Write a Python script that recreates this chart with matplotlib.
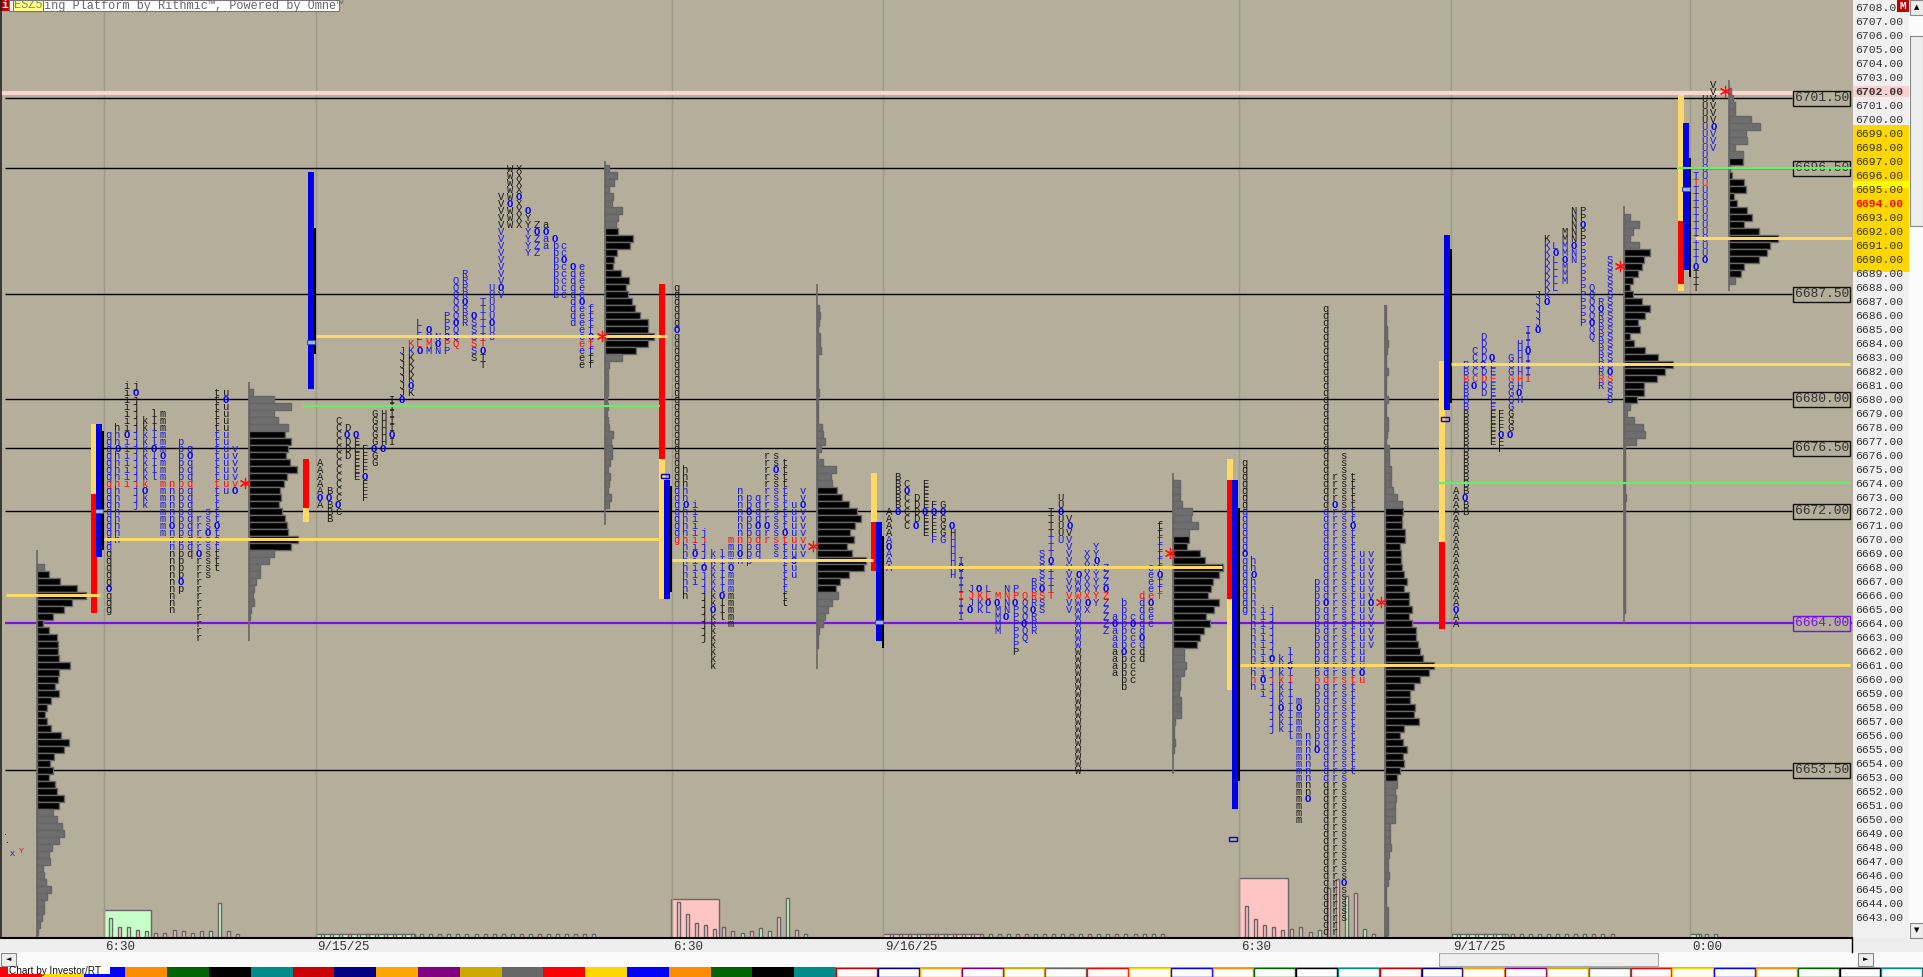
#!/usr/bin/env python3
import matplotlib
matplotlib.use("Agg")
import matplotlib.pyplot as plt
from matplotlib.patches import Rectangle

W, H = 1924, 977
BG = '#b4ae9a'
MONO = 'Liberation Mono'
TOP_PRICE = 6708.52
BOTTOM_PRICE = 6641.52

LOWER = list("ghijklmnpqrstuv")
UPPER = list("ABCDEFGHIJKLMNPQRSTUVWXYZabcdef")

# session 1 (6:30 9/12)
S1_HIGH = [6677.5, 6678, 6681, 6681, 6678.5, 6679, 6679, 6674, 6677, 6676.5, 6671.5, 6672, 6680.5, 6680.5, 6676.5]
S1_LOW = [6665, 6670, 6674, 6672.5, 6672.5, 6674.5, 6670.5, 6665, 6666.5, 6669, 6663, 6667.5, 6668, 6673.5, 6673.5]
S1_OPEN = [6666.5, 6676.5, 6677.5, 6680.5, 6673.5, 6676.5, 6676, 6671, 6667, 6676, 6669, 6670.5, 6671, 6680, 6673.5]
# session 2 (overnight 9/15)
S2_HIGH = [6675.5, 6673.5, 6678.5, 6678, 6677.5, 6676.5, 6679, 6679, 6680, 6683.5, 6684, 6685.5, 6685, 6684.5, 6686, 6688.5,
           6689, 6686, 6687, 6688, 6694.5, 6696.5, 6696.5, 6693.5, 6692.5, 6692.5, 6691.5, 6691, 6689.5, 6689.5, 6686.5]
S2_LOW = [6672.5, 6671.5, 6672, 6676, 6674.5, 6673, 6675.5, 6676.5, 6677, 6680, 6680.5, 6683.5, 6683.5, 6683.5, 6683.5, 6684,
          6685.5, 6683, 6682.5, 6684.5, 6687.5, 6692.5, 6692.5, 6690.5, 6690.5, 6691, 6687.5, 6687.5, 6685.5, 6682.5, 6682.5]
S2_OPEN = [6673, 6673, 6672.5, 6677.5, 6677.5, 6674.5, 6676.5, 6676.5, 6677.5, 6680, 6681, 6683.5, 6685, 6684, 6684.5, 6685.5,
           6687, 6686, 6683.5, 6685.5, 6688, 6694, 6694.5, 6693.5, 6692, 6692, 6691.5, 6690, 6689.5, 6687, 6684.5]
# session 3 (6:30 9/15)
S3_HIGH = [6688, 6675, 6672.5, 6670.5, 6669, 6669, 6670, 6673.5, 6673, 6673, 6676, 6676, 6675.5, 6672.5, 6673.5]
S3_LOW = [6670, 6666, 6667, 6663, 6661, 6664.5, 6664, 6668.5, 6668.5, 6669, 6670, 6669, 6665.5, 6667.5, 6669]
S3_OPEN = [6685, 6672.5, 6669, 6668, 6665, 6666, 6668, 6669, 6672, 6671, 6671, 6675, 6670.5, 6668.5, 6672.5]
# session 4 (overnight 9/16)
S4_HIGH = [6672, 6674.5, 6674, 6673, 6674, 6672.5, 6672.5, 6671, 6668.5, 6666.5, 6666.5, 6666.5, 6666, 6666.5, 6666.5, 6666,
           6667, 6669, 6672, 6673, 6671.5, 6667.5, 6669, 6669.5, 6668, 6664.5, 6665.5, 6664.5, 6666, 6668, 6671]
S4_LOW = [6668, 6672, 6671, 6671, 6670.5, 6670, 6670, 6667.5, 6664.5, 6665, 6665, 6665, 6663.5, 6664.5, 6662, 6663,
          6663.5, 6665, 6666, 6670, 6665, 6653.5, 6665, 6665.5, 6663.5, 6660.5, 6659.5, 6660, 6661.5, 6664, 6666]
S4_OPEN = [6669.5, 6672, 6673.5, 6671, 6672, 6672, 6672, 6671, 6668, 6665, 6666.5, 6665.5, 6665.5, 6664.5, 6665.5, 6664,
           6665, 6666.5, 6668.5, 6672, 6671, 6667.5, 6665.5, 6668.5, 6666.5, 6664, 6662, 6664, 6663, 6665.5, 6667.5]
# session 5 (6:30 9/16)
S5_HIGH = [6675.5, 6668.5, 6665, 6665, 6661.5, 6662, 6658.5, 6656, 6667, 6686.5, 6674.5, 6676, 6674.5, 6669, 6669]
S5_LOW = [6665, 6659.5, 6659, 6656.5, 6656.5, 6656, 6650, 6651.5, 6655, 6642, 6642, 6643, 6653.5, 6660, 6662.5]
S5_OPEN = [6669, 6667.5, 6660, 6661.5, 6658, 6661, 6658, 6651.5, 6655, 6665.5, 6672.5, 6645.5, 6671, 6660.5, 6665.5]
# session 6 (overnight 9/17)
S6_LETTERS = UPPER[:18]
S6_HIGH = [6673.5, 6682.5, 6683.5, 6684.5, 6683, 6679, 6683, 6684, 6685, 6687.5, 6691.5, 6691, 6692, 6693.5, 6693.5, 6688, 6687, 6690]
S6_LOW = [6664, 6672, 6681, 6680.5, 6677, 6676.5, 6677.5, 6680, 6681.5, 6685, 6687, 6688, 6688.5, 6690, 6685.5, 6684.5, 6681, 6680]
S6_OPEN = [6665, 6673, 6681, 6682.5, 6683, 6677.5, 6677.5, 6680.5, 6683.5, 6685, 6687, 6690.5, 6690, 6691, 6692.5, 6685.5, 6686.5, 6682]
# session 7 (6:30 9/17, still running)
S7_LETTERS = ['T', 'U', 'V']
S7_HIGH = [6696, 6701.5, 6702.5]
S7_LOW = [6688, 6690, 6698]
S7_OPEN = [6689.5, 6690, 6699.5]

COL_X0 = [108.3, 320, 676.3, 888.7, 1244.3, 1456, 1695.3]
MID_PRICE = [6674, 6684, 6670, 6666, 6660, 6681.5, 6695.5]
VA_LOW = [6669.5, 6683.5, 6666.5, 6662.5, 6653, 6679.5, 6690]
VA_HIGH = [6677.5, 6692, 6673.5, 6670, 6672, 6691, 6699.5]

# profiles, read top row down in half point steps
P0_WIDTH = [7, 12, 23, 40, 49, 35, 27, 16, 6, 12, 20, 21, 21, 22, 33, 22, 21, 18, 22, 14, 10, 8, 10, 14, 24, 32, 27, 17, 13,
            16, 12, 18, 20, 27, 22, 16, 20, 25, 27, 22, 15, 12, 13, 6, 7, 8.5, 14, 10, 7, 7, 5, 3, 1]
P1_WIDTH = [4, 25, 42, 25, 29, 39, 36, 42, 39, 37, 41, 48, 38, 35, 31, 32, 30, 33, 36, 38, 39, 49, 42, 25, 20, 11, 11, 7, 5, 4, 5, 2, 1]
P2_WIDTH = [4, 12, 9, 4, 8, 7, 17, 13, 11, 13, 28, 25, 12, 9, 8, 16, 24, 21, 23, 27, 30, 35, 43, 43, 49, 43, 31, 17, 4, 3, 3, 3,
            3, 2, 3, 2, 3, 4, 8, 6, 7, 7, 5, 3, 5, 4, 3, 6, 4]
P3_WIDTH = [2, 3, 2, 0.5, 3, 3, 4, 1, 0.5, 0.5, 0.5, 0.5, 2, 0.5, 0.5, 0.5, 1, 5, 6, 8, 4, 1, 6, 19, 14, 15, 20, 25, 32, 40, 44,
            38, 33, 37, 30, 35, 49, 47, 32, 23, 19, 21, 15, 11, 8, 6, 2, 0.5, 1]
P4_WIDTH = [7, 6.5, 7, 9, 19, 18, 25, 16, 16, 14, 27, 32, 50, 46, 40, 38, 35, 46, 41, 33, 37, 31, 27, 24, 11, 11, 13, 11, 7, 7,
            6, 8, 8, 8, 2, 1, 0.5, 2, 1]
P5_WIDTH = [0.5, 0.5, 0.5, 2, 2, 3, 2, 0.5, 0.5, 3, 0.5, 0.5, 0.5, 3, 0.5, 1, 3, 3, 2, 1, 4, 4, 4, 6, 6, 6, 8, 12, 17, 18, 17,
            17, 20, 20, 15, 16, 16, 17, 19, 22, 19, 24, 24, 27, 24, 27, 31, 31, 33, 35, 38, 49, 44, 35, 29, 25, 25, 30, 29, 34,
            19, 15, 18, 22, 18, 19, 15, 12, 12, 10, 11, 10, 10, 10, 5, 5, 5, 6, 4, 3, 3, 4, 3, 1, 1, 1, 3, 3, 3, 3, 2]
P6_WIDTH = [6, 15, 9, 6, 15, 26, 20, 18, 14, 9, 6, 9, 18, 26, 21, 14, 16, 6, 10, 21, 34, 49, 41, 33, 20, 20, 13, 6, 3, 10, 19, 21, 12,
            1, 1, 1, 0.5, 1, 1, 1, 2, 1, 0.5, 0.5, 1, 1, 1, 0.5, 0.5, 1, 1, 1, 0.5, 0.5, 1, 1, 1]
P7_WIDTH = [2, 4, 6, 6, 22, 31, 17, 18, 6, 14, 14, 1, 3, 15, 17, 5, 8, 18, 23, 15, 30, 49, 41, 38, 30, 15, 12, 6]

PROFILE_X = [37.5, 249.3, 605, 817.3, 1173.3, 1385.5, 1624.3, 1728.7]
PROFILE_TOP = [6668, 6680.5, 6696.5, 6686.5, 6674, 6686.5, 6693, 6702]
PROFILE_BLACK_HI = [6667.5, 6677.5, 6692, 6673.5, 6670, 6672, 6690.5, 6697]
PROFILE_BLACK_LO = [6651, 6669.5, 6683.5, 6666.5, 6662.5, 6653, 6680, 6689]
PROFILE_LINE_HI = [6669.2, 6681.2, 6697, 6688.2, 6674.7, 6686.7, 6693.8, 6702.8]
PROFILE_LINE_LO = [6641.6, 6662.7, 6671, 6660.7, 6653.2, 6641.6, 6664, 6687.7]

# point of control lines
POC_PRICE = [6666, 6670, 6684.5, 6668.5, 6668, 6661, 6682.5, 6691.5]
POC_X0 = [6, 104, 316, 672, 884, 1240, 1451, 1695]
POC_X1 = [100, 659, 667, 873, 1222, 1850, 1850, 1852]

STAR_X = [245.3, 601.7, 813, 1169.7, 1381.3, 1620, 1725]
STAR_PRICE = [6674, 6684.5, 6669.5, 6669, 6665.5, 6689.5, 6702]

# session range bars next to the letters: yellow/red column, blue column, black column
RANGE_X = [91, 303, 659, 871, 1227, 1439, 1678]
RANGE_YELLOW = [[(6673.2, 6678.2)], [(6671.2, 6672.2)], [(6665.7, 6675.7)], [(6671.2, 6674.7)],
                [(6674.2, 6675.7), (6659.2, 6665.7)], [(6669.8, 6682.7)], [(6692.7, 6701.7), (6687.7, 6688.2)]]
RANGE_RED = [(6664.7, 6673.2), (6672.2, 6675.7), (6675.7, 6688.2), (6667.7, 6671.2),
             (6665.7, 6674.2), (6663.6, 6669.8), (6688.2, 6692.7)]
BLUE_LOW = [6668.7, 6680.7, 6665.7, 6662.7, 6650.7, 6679.2, 6689.2]
BLUE_HIGH = [6678.2, 6696.2, 6674.2, 6671.2, 6674.2, 6691.7, 6699.7]
BLACK_LOW = [6669.2, 6683.2, 6666.2, 6662.2, 6652.7, 6679.7, 6688.7]
BLACK_HIGH = [6677.7, 6692.2, 6673.8, 6670.2, 6672.2, 6690.7, 6697.2]
MARK_PRICE = [6672, 6684.1, 6674.5, 6664.1, 6648.6, 6678.6, 6695]
MARK_FILLED = [True, True, False, True, False, False, True]

LEVELS = [6701.5, 6696.5, 6687.5, 6680, 6676.5, 6672, 6653.5]
PURPLE_LEVEL = 6664
PINK_LEVEL = 6702
GREEN_PRICE = [6679.5, 6696.5, 6674]
GREEN_X0 = [303, 1677, 1438]
GREEN_X1 = [660, 1852, 1850]

GRID_X = [103.6, 315.6, 671.6, 883.4, 1239.3, 1451.4, 1690.3]
GRID_LABELS = ['6:30', '9/15/25', '6:30', '9/16/25', '6:30', '9/17/25', '0:00']

# volume per letter, g = up, p = down
V1_HEIGHT = [20, 11, 11, 8, 7, 5, 5, 8, 7, 5, 7, 7, 35, 7, 4]
V1_COLOR = list("gpgpgppppppggpp")
V2_HEIGHT = [4] * 31
V2_COLOR = list("gggpgpggpggggpggggppggpgpgggppg")
V3_HEIGHT = [36, 24, 15, 13, 9, 11, 7, 5, 7, 10, 7, 21, 40, 8, 4]
V3_COLOR = list("pppppppgpggpgpg")
V4_HEIGHT = [4] * 31
V4_COLOR = list("pgpgppgpgppgpgppgppgpgpggpgpggp")
V5_HEIGHT = [32, 19, 13, 11, 8, 9, 11, 6, 8, 50, 59, 42, 45, 9, 4]
V5_COLOR = list("ppppppppgppgpgg")
V6_HEIGHT = [4] * 18
V6_COLOR = list("gggggggggggggggpgp")
V7_HEIGHT = [4, 4, 4]
V7_COLOR = list("ggg")

BOX_X0 = [103.6, 315.6, 671.4, 883.4, 1239, 1451.6, 1690]
BOX_X1 = [151.3, 415, 719, 981, 1287.7, 1508.4, 1701]
BOX_HEIGHT = [28, 4, 38.6, 4, 60, 4, 4]
BOX_COLOR = ['#c8ffc8', '#c8ffc8', '#ffc4c4', '#ffc4c4', '#ffc4c4', '#c8ffc8', '#c8ffc8']

SWATCHES = ['#ff0000', '#ffd700', '#0000ff', '#ff8c00', '#006400', '#000000', '#008b8b',
            '#cc0000', '#000080', '#ffa500', '#800080', '#ccaa00', '#666666']

SESSIONS = [
    (LOWER, S1_HIGH, S1_LOW, S1_OPEN),
    (UPPER, S2_HIGH, S2_LOW, S2_OPEN),
    (LOWER, S3_HIGH, S3_LOW, S3_OPEN),
    (UPPER, S4_HIGH, S4_LOW, S4_OPEN),
    (LOWER, S5_HIGH, S5_LOW, S5_OPEN),
    (S6_LETTERS, S6_HIGH, S6_LOW, S6_OPEN),
    (S7_LETTERS, S7_HIGH, S7_LOW, S7_OPEN),
]
PROFILES = [P0_WIDTH, P1_WIDTH, P2_WIDTH, P3_WIDTH, P4_WIDTH, P5_WIDTH, P6_WIDTH, P7_WIDTH]
VOLUMES = [(V1_HEIGHT, V1_COLOR), (V2_HEIGHT, V2_COLOR), (V3_HEIGHT, V3_COLOR), (V4_HEIGHT, V4_COLOR),
           (V5_HEIGHT, V5_COLOR), (V6_HEIGHT, V6_COLOR), (V7_HEIGHT, V7_COLOR)]

fig = plt.figure(figsize=(W / 100, H / 100), dpi=100, facecolor=BG)

# window furniture sits behind and above the chart, in pixels
back = fig.add_axes([0, 0, 1, 1], zorder=0)
back.set_xlim(0, W)
back.set_ylim(H, 0)
back.axis('off')
top = fig.add_axes([0, 0, 1, 1], zorder=5)
top.set_xlim(0, W)
top.set_ylim(H, 0)
top.axis('off')
top.patch.set_visible(False)


def box(a, x0, y0, x1, y1, fc, ec='none', lw=0):
    a.add_patch(Rectangle((x0, y0), x1 - x0, y1 - y0, fc=fc, ec=ec, lw=lw))


box(back, 1852.7, 0, 1909, 938, '#f0f0f0')
box(back, 1852.7, 125, 1909, 272, '#ffd700')
box(back, 1852.7, 181, 1909, 188, '#ffff00')
box(back, 1852.7, 86, 1909, 97, '#f8d0d0')
box(back, 0, 938, W, 952, '#eeeeee')
box(back, 0, 952, W, 967, '#fbfbfb')
box(back, 1909, 0, W, 938, '#fbfbfb')

# price axis
ax = fig.add_axes([0, (H - 938) / H, 1852 / W, 938 / H], zorder=2)
ax.patch.set_visible(False)
ax.set_xlim(0, 1852)
ax.set_ylim(BOTTOM_PRICE, TOP_PRICE)
for s in ax.spines.values():
    s.set_visible(False)
ax.yaxis.tick_right()
prices = list(range(6643, 6709))
ax.set_yticks(prices)
ax.set_yticklabels(['%.2f' % p for p in prices], fontfamily=MONO, fontsize=8.2, color='#333333')
ax.tick_params(axis='y', length=0, pad=2.6)
for lab, p in zip(ax.get_yticklabels(), prices):
    if p == 6694:
        lab.set_color('#ff0000')
        lab.set_fontweight('bold')
    if p == 6702:
        lab.set_fontweight('bold')

ax.set_xticks(GRID_X)
ax.set_xticklabels(GRID_LABELS, fontfamily=MONO, fontsize=9, color='#333333', ha='left')
ax.tick_params(axis='x', length=0, pad=2.5)
for lab in ax.get_xticklabels():
    lab.set_transform(lab.get_transform() + matplotlib.transforms.ScaledTranslation(2 / 100, 0, fig.dpi_scale_trans))
ax.grid(axis='x', color='#9f9a87', lw=1, zorder=0)
ax.set_axisbelow(True)

# volume strip under the letters
vol = fig.add_axes([0, (H - 938) / H, 1852 / W, 100 / H], zorder=1)
vol.set_xlim(0, 1852)
vol.set_ylim(0, 100)
vol.axis('off')
vol.patch.set_visible(False)
for x0, x1, h, c in zip(BOX_X0, BOX_X1, BOX_HEIGHT, BOX_COLOR):
    vol.bar(x0, h, width=x1 - x0, align='edge', color=c, edgecolor='#666666', linewidth=1)
for (heights, colors), cx in zip(VOLUMES, COL_X0):
    xs = [cx + 2.5 + i * 9.03 for i in range(len(heights))]
    fcs = ['#c8ffc8' if c == 'g' else '#ffc4c4' for c in colors]
    vol.bar(xs, heights, width=3, color=fcs, edgecolor='#666666', linewidth=1)

# key levels
ax.axhline(PINK_LEVEL - 0.13, xmin=0, xmax=1792 / 1852, color='#f9d7d0', lw=3, zorder=1)
for lv in LEVELS:
    ax.hlines(lv, 5, 1792, color='black', lw=1, zorder=1.5)
ax.hlines(PURPLE_LEVEL, 5, 1852, color='#7a10e8', lw=1.6, zorder=2.5)

# profiles
for i, widths in enumerate(PROFILES):
    base = PROFILE_X[i]
    ps = [PROFILE_TOP[i] - 0.5 * k for k in range(len(widths))]
    cols = ['black' if PROFILE_BLACK_LO[i] <= p <= PROFILE_BLACK_HI[i] else '#6e6e6e' for p in ps]
    ax.vlines(base, PROFILE_LINE_LO[i], PROFILE_LINE_HI[i], color='#666666', lw=1.2, zorder=3)
    ax.barh(ps, widths, left=base, height=0.46, color=cols, edgecolor='#666666', linewidth=1, zorder=3)

# range bars
for i, x in enumerate(RANGE_X):
    for lo, hi in RANGE_YELLOW[i]:
        ax.bar(x, hi - lo, bottom=lo, width=6, align='edge', color='#ffd966', zorder=4)
    lo, hi = RANGE_RED[i]
    ax.bar(x, hi - lo, bottom=lo, width=6, align='edge', color='#ff0000', zorder=4)
    ax.bar(x + 5, BLUE_HIGH[i] - BLUE_LOW[i], bottom=BLUE_LOW[i], width=6, align='edge', color='#0000e6', zorder=4.2)
    ax.bar(x + 11, BLACK_HIGH[i] - BLACK_LOW[i], bottom=BLACK_LOW[i], width=2, align='edge', color='black', zorder=4.1)
    if MARK_FILLED[i]:
        ax.barh(MARK_PRICE[i], 8, left=x + 4, height=0.3, color='#a8b8d8', edgecolor='#3050c0', linewidth=0.8, zorder=4.5)
    else:
        ax.barh(MARK_PRICE[i], 8, left=x + 2.5, height=0.3, color='none', edgecolor='#0000e6', linewidth=1, zorder=4.5)

# letters
for i, (letters, highs, lows, opens) in enumerate(SESSIONS):
    for k, letter in enumerate(letters):
        x = COL_X0[i] + k * 9.03
        n = int(round((highs[k] - lows[k]) * 2))
        for r in range(n + 1):
            p = highs[k] - r * 0.5
            if p == opens[k]:
                ax.text(x, p - 0.25, 'O', color='#0000f0', fontfamily=MONO, fontsize=7.6, fontweight='bold',
                        ha='center', va='baseline', zorder=5)
                continue
            c = '#1a1ae0' if VA_LOW[i] <= p <= VA_HIGH[i] else '#1a1a1a'
            if p == MID_PRICE[i]:
                c = '#ff1010'
            ax.text(x, p - 0.25, letter, color=c, fontfamily=MONO, fontsize=7.6,
                    ha='center', va='baseline', zorder=5)

# poc and green lines on top of the letters
for p, x0, x1 in zip(POC_PRICE, POC_X0, POC_X1):
    ax.hlines(p, x0, x1, color='#ffd966', lw=2.2, zorder=6)
for p, x0, x1 in zip(GREEN_PRICE, GREEN_X0, GREEN_X1):
    ax.hlines(p, x0, x1, color='#66ee66', lw=1.6, zorder=6)
ax.scatter(STAR_X, STAR_PRICE, marker=(6, 2, 0), s=55, color='#ff1010', linewidths=0.9, zorder=7)

# boxed level labels at the right
for lv in LEVELS + [PURPLE_LEVEL]:
    c = '#7a10e8' if lv == PURPLE_LEVEL else '#333333'
    ec = '#7a10e8' if lv == PURPLE_LEVEL else '#111111'
    ax.text(1821.7, lv, '%.2f' % lv, color=c, fontfamily=MONO, fontsize=9.4, ha='center', va='center', zorder=5.5,
            bbox=dict(fc=BG, ec=ec, lw=1, boxstyle='square,pad=0.12'))

ax.text(12, 6647.5, 'X', color='#1a1ae0', fontfamily=MONO, fontsize=6, ha='center', va='center', zorder=5)
ax.text(21, 6647.7, 'Y', color='#ff1010', fontfamily=MONO, fontsize=6, ha='center', va='center', zorder=5)
ax.text(6, 6649, '.', color='#333333', fontfamily=MONO, fontsize=6, ha='center', va='center', zorder=5)
ax.text(8, 6648.4, '.', color='#333333', fontfamily=MONO, fontsize=6, ha='center', va='center', zorder=5)

# window parts in front
top.plot([0, 1852], [938, 938], color='black', lw=1.5)
top.plot([1852, 1852], [938, 952], color='black', lw=1)
top.plot([1, 1], [0, 938], color='#222222', lw=1.2)
box(top, 0, 0, 9, 11, '#c00000')
top.text(4.5, 5.5, 'i', color='white', fontfamily=MONO, fontsize=8, fontweight='bold', ha='center', va='center')
box(top, 9, 0, 339, 11, 'white', '#777777', 0.8)
box(top, 13, 0, 43, 11, '#ffff88', '#777777', 0.8)
top.text(14, 5.5, 'ESZ5', color='#888866', fontfamily=MONO, fontsize=8.6, ha='left', va='center')
top.text(44, 5.5, 'ing Platform by Rithmic\u2122, Powered by Omne\u2122', color='#666666', fontfamily=MONO,
         fontsize=8.6, ha='left', va='center')
box(top, 1897, 0, 1909, 12, '#c00000')
top.text(1903, 6, 'M', color='white', fontfamily=MONO, fontsize=8, fontweight='bold', ha='center', va='center')

# scrollbars
for x0, y0, x1, y1, t in [(1910, 0, 1923, 15, '\u25b2'), (1910, 923, 1923, 938, '\u25bc'),
                          (1, 953, 16, 966, '\u25c4'), (1858, 953, 1873, 966, '\u25ba')]:
    box(top, x0, y0, x1, y1, '#eeeeee', '#888888', 0.8)
    top.text((x0 + x1) / 2, (y0 + y1) / 2, t, color='black', fontsize=5, ha='center', va='center')
box(top, 1910, 36, 1923, 226, '#eeeeee', '#888888', 0.8)
box(top, 1439, 953, 1658, 966, '#eeeeee', '#aaaaaa', 0.8)

# colour strip along the bottom
for k in range(47):
    x = k * 41.8
    c = SWATCHES[k % len(SWATCHES)]
    if k < 20:
        box(top, x, 967, x + 41.8, 977, c)
    else:
        box(top, x + 0.5, 967.5, x + 41.3, 977, 'white', c, 1)
box(top, 8, 967, 110, 974, 'white')
top.text(9, 971, 'Chart by Investor/RT', color='#111111', fontfamily='Liberation Sans', fontsize=7.2, ha='left', va='center')

fig.savefig('out.png', dpi=100, facecolor=BG)
